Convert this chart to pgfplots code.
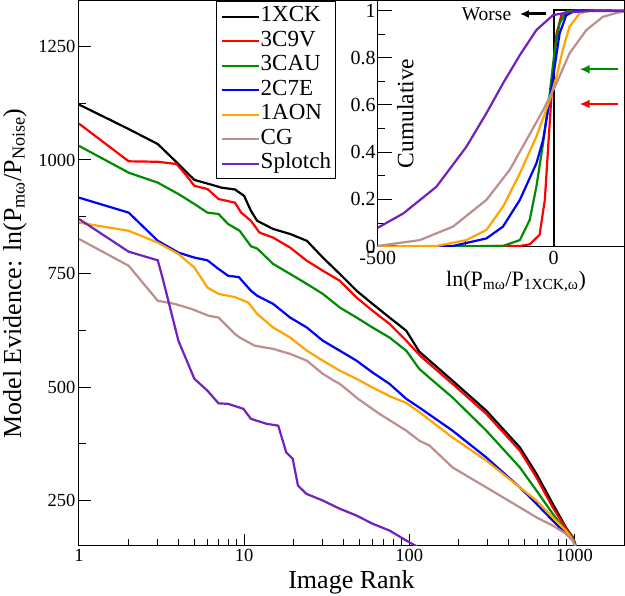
\documentclass[border=0pt]{standalone}
\usepackage{pgfplots}
\pgfplotsset{compat=1.18}
\usepackage{fontspec}
\setmainfont{Liberation Serif}
\usetikzlibrary{arrows.meta}
\definecolor{ggreen}{RGB}{0,139,0}
\definecolor{gorange}{RGB}{255,165,0}
\definecolor{gbrown}{RGB}{188,143,143}
\definecolor{gindigo}{RGB}{114,33,188}
\begin{document}
\begin{tikzpicture}
\useasboundingbox (-79pt,-50pt) rectangle (546pt,546pt);
\begin{axis}[name=main, at={(0pt,0pt)}, anchor=south west,
  scale only axis, width=545pt, height=545pt,
  xmode=log, xmin=1, xmax=2000, ymin=150, ymax=1350,
  xtick={1,10,100,1000}, xticklabels={1,10,100,1000},
  minor xtick={2,3,4,5,6,7,8,9,20,30,40,50,60,70,80,90,200,300,400,500,600,700,800,900},
  ytick={250,500,750,1000,1250}, yticklabels={250,500,750,1000,1250},
  minor ytick={375,625,875,1125},
  tick align=inside, major tick length=12pt, minor tick length=7pt,
  xtick pos=lower, ytick pos=left,
  tick style={black, line width=1pt},
  axis line style={line width=1pt},
  ticklabel style={font=\fontsize{18.5}{20}\selectfont},
  xlabel={Image Rank},
  ylabel={Model Evidence: ln(P\textsubscript{mω}/P\textsubscript{Noise})},
  label style={font=\fontsize{26}{28}\selectfont},
  xlabel style={at={(axis description cs:0.5,-0.0771)}, anchor=base, inner sep=0pt},
  ylabel style={at={(axis description cs:-0.1064,0.5)}, anchor=base, inner sep=0pt},
  legend style={at={(0.2514,1)}, anchor=north west, draw=black, line width=1pt, fill=white,
    font=\fontsize{23}{25}\selectfont, inner xsep=4pt, inner ysep=3pt,
    nodes={inner sep=1pt, text height=16.5pt, text depth=6pt}},
  legend cell align=left,
  legend image code/.code={\draw[#1] (0pt,0pt) -- (25pt,0pt); \path (25pt,0pt) -- (37pt,0pt);},
]
\addplot[black, line width=2.2pt] coordinates {
(1,1122) (2,1068) (3,1035) (4,991) (5,956) (6,948) (7.3,939) (8.8,935) (10,921) (11,888) (12,866) (15,848) (19,837) (24,822) (30,785) (38,749) (48,712) (60,683) (76,653) (96,624) (115,578) (133,558) (183,514) (293,448) (468,367) (590,309) (740,243) (889,191) (980,169) (1010,155) (1030,130)};
\addlegendentry{1XCK}
\addplot[red, line width=2.2pt] coordinates {
(1,1080) (2,997) (3,996) (3.9,991) (4.4,969) (5,943) (6,936) (7,914) (8.8,906) (9.6,884) (11,866) (12.4,840) (15,829) (19,807) (24,778) (30,756) (38,734) (48,697) (60,668) (76,639) (96,602) (118,567) (183,507) (293,441) (468,360) (590,301) (740,235) (889,189) (980,168) (1010,155) (1030,130)};
\addlegendentry{3C9V}
\addplot[ggreen, line width=2.2pt] coordinates {
(1,1031) (2,972) (3,950) (4,925) (5,903) (6,884) (7,881) (8,859) (9.4,844) (11,810) (12,805) (15,771) (19,749) (24,727) (30,705) (38,675) (48,653) (60,631) (76,609) (96,580) (115,540) (135,518) (183,477) (293,404) (468,323) (590,272) (740,221) (889,184) (980,166) (1010,155) (1030,130)};
\addlegendentry{3CAU}
\addplot[blue, line width=2.2pt] coordinates {
(1,917) (2,884) (3,822) (4,796) (5,785) (6,779) (7,760) (8,745) (9.3,742) (11,712) (12,701) (15,683) (19,653) (24,631) (30,602) (38,580) (48,558) (60,532) (76,507) (96,474) (115,455) (183,404) (293,345) (468,279) (590,243) (740,206) (889,177) (980,163) (1010,152) (1030,130)};
\addlegendentry{2C7E}
\addplot[gorange, line width=2.2pt] coordinates {
(1,862) (2,844) (3,818) (4,793) (5,763) (6,719) (7,705) (8.8,698) (10.6,686) (12,661) (15,631) (19,609) (24,580) (30,558) (38,536) (48,518) (60,499) (76,480) (96,465) (115,445) (127,433) (183,389) (293,338) (468,279) (590,250) (740,213) (889,184) (980,163) (1010,150) (1030,130)};
\addlegendentry{1AON}
\addplot[gbrown, line width=2.2pt] coordinates {
(1,826) (2,767) (3,690) (3.8,683) (4.8,672) (6.1,657) (7,653) (8.8,617) (9.4,609) (11.6,591) (15,584) (19,573) (24,558) (30,529) (35,514) (38,507) (49,474) (66,441) (96,404) (115,382) (133,371) (183,323) (293,279) (468,235) (590,213) (740,195) (889,177) (980,162) (1010,150) (1030,130)};
\addlegendentry{CG}
\addplot[gindigo, line width=2.2pt] coordinates {
(1,870) (2,798) (3,779) (3.24,734) (3.64,661) (4,602) (5,518) (6,492) (7,464) (8,463) (9.9,452) (11,430) (13.7,419) (16.1,415) (18,356) (19.7,342) (21.2,283) (23.8,265) (30,250) (38,232) (48,217) (60,199) (76,184) (96,162) (110,150) (130,125)};
\addlegendentry{Splotch}
\end{axis}
\begin{axis}[at={(main.north east)}, anchor=north east,
  scale only axis, width=246.3pt, height=245.7pt,
  xmin=-500, xmax=200, ymin=0, ymax=1.04,
  axis background/.style={fill=white},
  xtick={-500,0}, xticklabels={-500,0}, minor xtick={-250},
  ytick={0,0.2,0.4,0.6,0.8,1}, yticklabels={0,0.2,0.4,0.6,0.8,1},
  minor ytick={0.1,0.3,0.5,0.7,0.9},
  tick align=inside, major tick length=14pt, minor tick length=7pt,
  xtick pos=lower, ytick pos=left,
  tick style={black, line width=1pt},
  axis line style={line width=1pt},
  ticklabel style={font=\fontsize{20}{22}\selectfont},
  yticklabel style={inner xsep=2pt},
  xticklabel style={inner ysep=4pt},
  xlabel={ln(P\textsubscript{mω}/P\textsubscript{1XCK,ω})},
  ylabel={Cumulative},
  xlabel style={at={(axis description cs:0.5615,-0.1628)}, anchor=base, inner sep=0pt, font=\fontsize{22}{24}\selectfont},
  ylabel style={at={(axis description cs:0.1445,0.542)}, anchor=base, inner sep=0pt, font=\fontsize{23.5}{25}\selectfont},
]
\addplot[black, line width=2pt] coordinates {(-550,0) (0,0) (0,1) (200,1)};
\addplot[red, line width=2.2pt] coordinates {
(-550,0) (-96,0.003) (-68,0.01) (-40,0.05) (-25,0.198) (-16,0.41) (-7,0.62) (0,0.76) (8,0.90) (22,0.98) (40,0.998) (200,1)};
\addplot[ggreen, line width=2.2pt] coordinates {
(-550,0) (-144,0.003) (-96,0.028) (-68,0.113) (-49,0.254) (-30,0.438) (-11,0.649) (3,0.832) (17,0.945) (36,0.995) (60,1) (200,1)};
\addplot[blue, line width=2.2pt] coordinates {
(-550,0) (-286,0.003) (-191,0.035) (-144,0.085) (-96,0.198) (-49,0.353) (-30,0.452) (-11,0.621) (3,0.762) (17,0.903) (36,0.98) (60,0.998) (200,1)};
\addplot[gorange, line width=2.2pt] coordinates {
(-550,0) (-333,0.003) (-248,0.028) (-191,0.071) (-144,0.169) (-96,0.31) (-49,0.466) (-11,0.621) (8,0.719) (26,0.832) (45,0.931) (74,0.988) (100,0.998) (200,1)};
\addplot[gbrown, line width=2.2pt] coordinates {
(-550,0) (-500,0.003) (-380,0.028) (-286,0.085) (-191,0.198) (-125,0.325) (-77,0.452) (-30,0.578) (8,0.691) (45,0.818) (93,0.917) (140,0.973) (180,0.99) (200,0.995)};
\addplot[gindigo, line width=2.2pt] coordinates {
(-550,0.06) (-500,0.08) (-427,0.141) (-333,0.254) (-248,0.423) (-191,0.565) (-144,0.691) (-96,0.811) (-49,0.917) (-2,0.98) (45,0.993) (100,0.997) (200,0.997)};
\draw[black, line width=3pt, -{Latex[length=9pt,width=8pt]}] (axis cs:-21,0.985) -- (axis cs:-96,0.985);
\node[anchor=base east, inner sep=0pt, font=\fontsize{19.5}{21}\selectfont] at (axis cs:-120,0.959) {Worse};
\draw[ggreen, line width=2pt, -{Latex[length=10pt,width=9pt]}] (axis cs:182,0.751) -- (axis cs:74,0.751);
\draw[red, line width=2pt, -{Latex[length=10pt,width=9pt]}] (axis cs:182,0.604) -- (axis cs:74,0.604);
\end{axis}
\end{tikzpicture}
\end{document}
